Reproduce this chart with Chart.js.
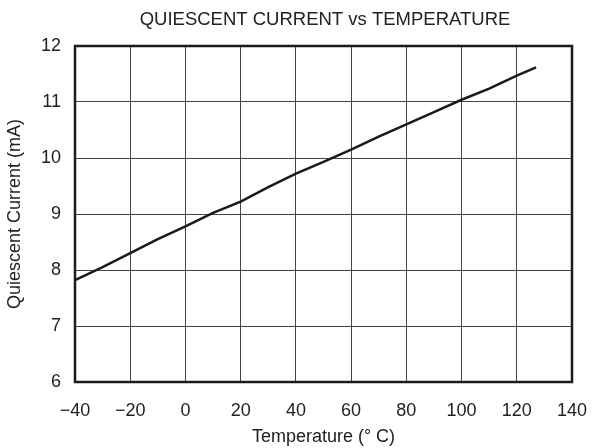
<!DOCTYPE html>
<html>
<head>
<meta charset="utf-8">
<script src="https://cdn.jsdelivr.net/npm/chart.js@4"></script>
<style>
  html, body { margin: 0; padding: 0; background: #fff; }
  #wrap { width: 592px; height: 448px; }
</style>
</head>
<body>
<div id="wrap"><canvas id="myChart"></canvas></div>
<script>
// temperature (deg C) and quiescent current (mA)
let temps = [-40, -30, -20, -10, 0, 10, 20, 30, 40, 50, 60, 70, 80, 90, 100, 110, 120, 127];
let current = [7.82, 8.05, 8.3, 8.55, 8.78, 9.02, 9.22, 9.48, 9.72, 9.93, 10.15, 10.38, 10.6, 10.82, 11.04, 11.24, 11.47, 11.62];
let xTicks = [-40, -20, 0, 20, 40, 60, 80, 100, 120, 140];
let yTicks = [6, 7, 8, 9, 10, 11, 12];

let points = temps.map((t, i) => ({ x: t, y: current[i] }));
let font = "'Liberation Sans', Arial, Helvetica, sans-serif";

// title and outer frame
let extras = {
  id: "extras",
  afterDraw(c) {
    let ctx = c.ctx;
    let a = c.chartArea;
    ctx.save();
    ctx.strokeStyle = "#1a1a1a";
    ctx.lineWidth = 2.5;
    ctx.strokeRect(a.left, a.top, a.right - a.left, a.bottom - a.top);
    ctx.fillStyle = "#222";
    ctx.font = "18.5px " + font;
    ctx.textAlign = "center";
    ctx.textBaseline = "middle";
    ctx.fillText("QUIESCENT CURRENT vs TEMPERATURE", 325, 20);
    ctx.restore();
  },
};

let myChart = document.getElementById("myChart").getContext("2d");

var chart = new Chart(myChart, {
  type: "line",
  data: {
    datasets: [
      {
        label: "Iq",
        data: points,
        borderColor: "#1a1a1a",
        borderWidth: 2.5,
        pointRadius: 0,
        tension: 0,
        fill: false,
      },
    ],
  },
  options: {
    responsive: true,
    maintainAspectRatio: false,
    animation: false,
    layout: { padding: { top: 46, right: 20, left: 0, bottom: 0 } },
    plugins: {
      legend: { display: false },
      tooltip: { enabled: false },
    },
    scales: {
      x: {
        type: "linear",
        min: -40,
        max: 140,
        afterBuildTicks: (s) => { s.ticks = xTicks.map((v) => ({ value: v })); },
        afterFit: (s) => { s.height = 66; s.paddingLeft = 0; s.paddingRight = 0; },
        grid: { color: "#444", lineWidth: 1, drawTicks: false },
        border: { display: false },
        ticks: {
          color: "#222",
          font: { family: font, size: 18 },
          padding: 18,
          maxRotation: 0,
          callback: (v) => (v < 0 ? "\u2212" + Math.abs(v) : "" + v),
        },
        title: {
          display: true,
          text: "Temperature (\u00b0 C)",
          color: "#222",
          font: { family: font, size: 18 },
          padding: { top: 0, bottom: 0 },
        },
      },
      y: {
        min: 6,
        max: 12,
        afterBuildTicks: (s) => { s.ticks = yTicks.map((v) => ({ value: v })); },
        afterFit: (s) => { s.width = 75; s.paddingTop = 0; s.paddingBottom = 0; },
        grid: { color: "#444", lineWidth: 1, drawTicks: false },
        border: { display: false },
        ticks: {
          color: "#222",
          font: { family: font, size: 18 },
          padding: 14,
        },
        title: {
          display: true,
          text: "Quiescent Current (mA)",
          color: "#222",
          font: { family: font, size: 18 },
          padding: { top: 4, bottom: 0 },
        },
      },
    },
  },
  plugins: [extras],
});
</script>
</body>
</html>
